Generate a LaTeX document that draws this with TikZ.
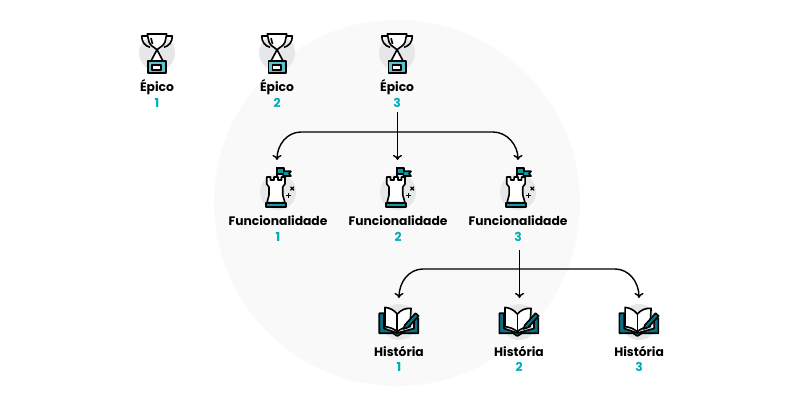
\documentclass[tikz,border=0pt]{standalone}
\usepackage{fontspec}
\setmainfont{Poppins}
\usetikzlibrary{arrows.meta}
\definecolor{tealnum}{HTML}{00ACB8}
\definecolor{tealflag}{HTML}{0E9AA7}
\definecolor{tealdark}{HTML}{0B7285}
\definecolor{tealplate}{HTML}{5CC2CB}
\definecolor{haze}{HTML}{E6E7E8}
\definecolor{bigdisc}{HTML}{F9F9F9}
\tikzset{
  pics/trophy/.style={code={
    \draw[icon] (-9.7,-17) -- (-15.3,-17) .. controls (-15.3,-11) and (-12,-7) .. (-7,-5.7);
    \draw[icon] (9.7,-17) -- (15.3,-17) .. controls (15.3,-11) and (12,-7) .. (7,-5.7);
    \draw[icon,fill=white] (-9.7,-19) -- (9.7,-19) -- (8,-11) .. controls (6.5,-7) and (3,-6) .. (0,-3.3) -- (6,8) -- (-6,8) -- (0,-3.3) .. controls (-3,-6) and (-6.5,-7) .. (-8,-11) -- cycle;
    \draw[icon] (-6,-15) -- (-4.5,-9);
    \draw[icon,fill=tealplate] (-8.7,8.3) rectangle (9,20);
    \draw[icon,fill=white] (-4.7,11.7) rectangle (4,16.7);
  }},
  pics/rook/.style={code={
    \draw[icon,fill=tealflag] (-0.7,-24) rectangle (6,-18.3);
    \draw[icon,fill=tealflag] (6,-20.7) -- (13,-20.7) -- (11,-18.3) -- (13,-16) -- (5.3,-16) -- (5.3,-18.3);
    \draw[icon] (-1.3,-25) -- (-1.3,-15);
    \draw[icon,fill=white] (-11.3,-15) -- (-7.5,-15) -- (-7.5,-12) -- (-4,-12) -- (-4,-15) -- (0,-15) -- (0,-12) -- (3.5,-12) -- (3.5,-15) -- (7,-15) -- (7,-8) -- (4.7,-5) -- (4.7,3) -- (7,10.7) -- (-11,10.7) -- (-9,3) -- (-9,-5) -- (-11.3,-8) -- cycle;
    \draw[icon,fill=tealflag] (-12,10.7) rectangle (7.7,15);
    \draw[thin icon] (12.5,-5.2) -- (16,-1.7) (16,-5.2) -- (12.5,-1.7);
    \draw[thin icon] (10.3,0.8) -- (10.3,5.8) (7.8,3.3) -- (12.8,3.3);
  }},
  pics/book/.style={code={
    \draw[icon,fill=tealdark] (-19.7,-8.7) -- (-15,-8.7) -- (-15,6.5) -- (-1.7,11) -- (15,6.5) -- (15,-3.7) -- (19.3,-3.7) -- (19.3,11.3) -- (3,11.3) -- (-1.7,14) -- (-6,11.3) -- (-19.7,11.3) -- cycle;
    \draw[icon,fill=white] (-1.7,-8) .. controls (-5,-12) and (-9,-14) .. (-14,-14.7) -- (-14,4.7) .. controls (-9,5) and (-5,7) .. (-1.7,9.7) .. controls (1,7) and (6,5) .. (11,4.7) -- (12,-13.7) .. controls (6,-14) and (2,-12) .. (-1.7,-8) -- cycle;
    \draw[icon] (-1.7,-8) -- (-1.7,9.7);
    \draw[icon,fill=tealdark] (6,2.8) -- (16.5,-8.8) -- (19.6,-6) -- (8.8,5.6) -- (4.3,7) -- cycle;
  }}
}
\begin{document}
\begin{tikzpicture}[x=0.025cm,y=-0.025cm,>={Computer Modern Rightarrow[length=3.6pt,width=6.4pt]},node distance=3cm,
    icon/.style={draw=black,line width=1.15pt,line join=round},
    thin icon/.style={draw=black,line width=.85pt},
    halo/.style={circle,fill=haze,minimum size=.9cm,inner sep=0pt},
    title/.style={font=\bfseries\fontsize{8.76}{11}\selectfont,text height=7pt,text depth=0pt,inner sep=0pt,node distance=.85cm},
    num/.style={font=\bfseries\fontsize{8.76}{11}\selectfont,text=tealnum,text height=7pt,text depth=0pt,inner sep=0pt,node distance=.38cm},
    link/.style={->,line width=1pt}]
  \useasboundingbox (0,0) rectangle (800,400);
  \node[circle,fill=bigdisc,minimum size=9.15cm,inner sep=0pt] (disc) at (397,203) {};

  \node[halo] (e1) at (157,53) {};
  \node[halo] (e2) [right of=e1] {};
  \node[halo] (e3) [right of=e2] {};
  \node[halo] (f1) at (278,192) {};
  \node[halo] (f2) [right of=f1] {};
  \node[halo] (f3) [right of=f2] {};
  \node[halo] (h1) at (399,322) {};
  \node[halo] (h2) [right of=h1] {};
  \node[halo] (h3) [right of=h2] {};

  \pic at (e1) {trophy};
  \pic at (e2) {trophy};
  \pic at (e3) {trophy};
  \pic at (f1) {rook};
  \pic at (f2) {rook};
  \pic at (f3) {rook};
  \pic at (h1) {book};
  \pic at (h2) {book};
  \pic at (h3) {book};

  \node[title] (e1t) [below of=e1] {Épico};
  \node[num] (e1n) [below of=e1t] {1};
  \node[title] (e2t) [below of=e2] {Épico};
  \node[num] (e2n) [below of=e2t] {2};
  \node[title] (e3t) [below of=e3] {Épico};
  \node[num] (e3n) [below of=e3t] {3};
  \node[title,node distance=.725cm] (f1t) [below of=f1] {Funcionalidade};
  \node[num] (f1n) [below of=f1t] {1};
  \node[title,node distance=.725cm] (f2t) [below of=f2] {Funcionalidade};
  \node[num] (f2n) [below of=f2t] {2};
  \node[title,node distance=.725cm] (f3t) [below of=f3] {Funcionalidade};
  \node[num] (f3n) [below of=f3t] {3};
  \node[title,node distance=.745cm] (h1t) [below of=h1] {História};
  \node[num] (h1n) [below of=h1t] {1};
  \node[title,node distance=.745cm] (h2t) [below of=h2] {História};
  \node[num] (h2n) [below of=h2t] {2};
  \node[title,node distance=.745cm] (h3t) [below of=h3] {História};
  \node[num] (h3n) [below of=h3t] {3};

  \coordinate (e3s) at (397.5,112);
  \coordinate (f1a) at (277,160);
  \coordinate (f2a) at (397.5,160);
  \coordinate (f3a) at (518,160);
  \coordinate (f3s) at (519.5,250);
  \coordinate (h1a) at (399,298);
  \coordinate (h2a) at (519.5,298);
  \coordinate (h3a) at (639,298);

  \draw[link] (e3s) -- (f2a);
  \draw[link] (e3s) ++(0,20) -- (301,132) .. controls (287,132) and (277,145) .. (f1a);
  \draw[link] (e3s) ++(0,20) -- (493,132) .. controls (507,132) and (518,145) .. (f3a);
  \draw[link] (f3s) -- (h2a);
  \draw[link] (f3s) ++(0,19) -- (423,269) .. controls (409,269) and (399,282) .. (h1a);
  \draw[link] (f3s) ++(0,19) -- (615,269) .. controls (629,269) and (639,282) .. (h3a);
\end{tikzpicture}
\end{document}
